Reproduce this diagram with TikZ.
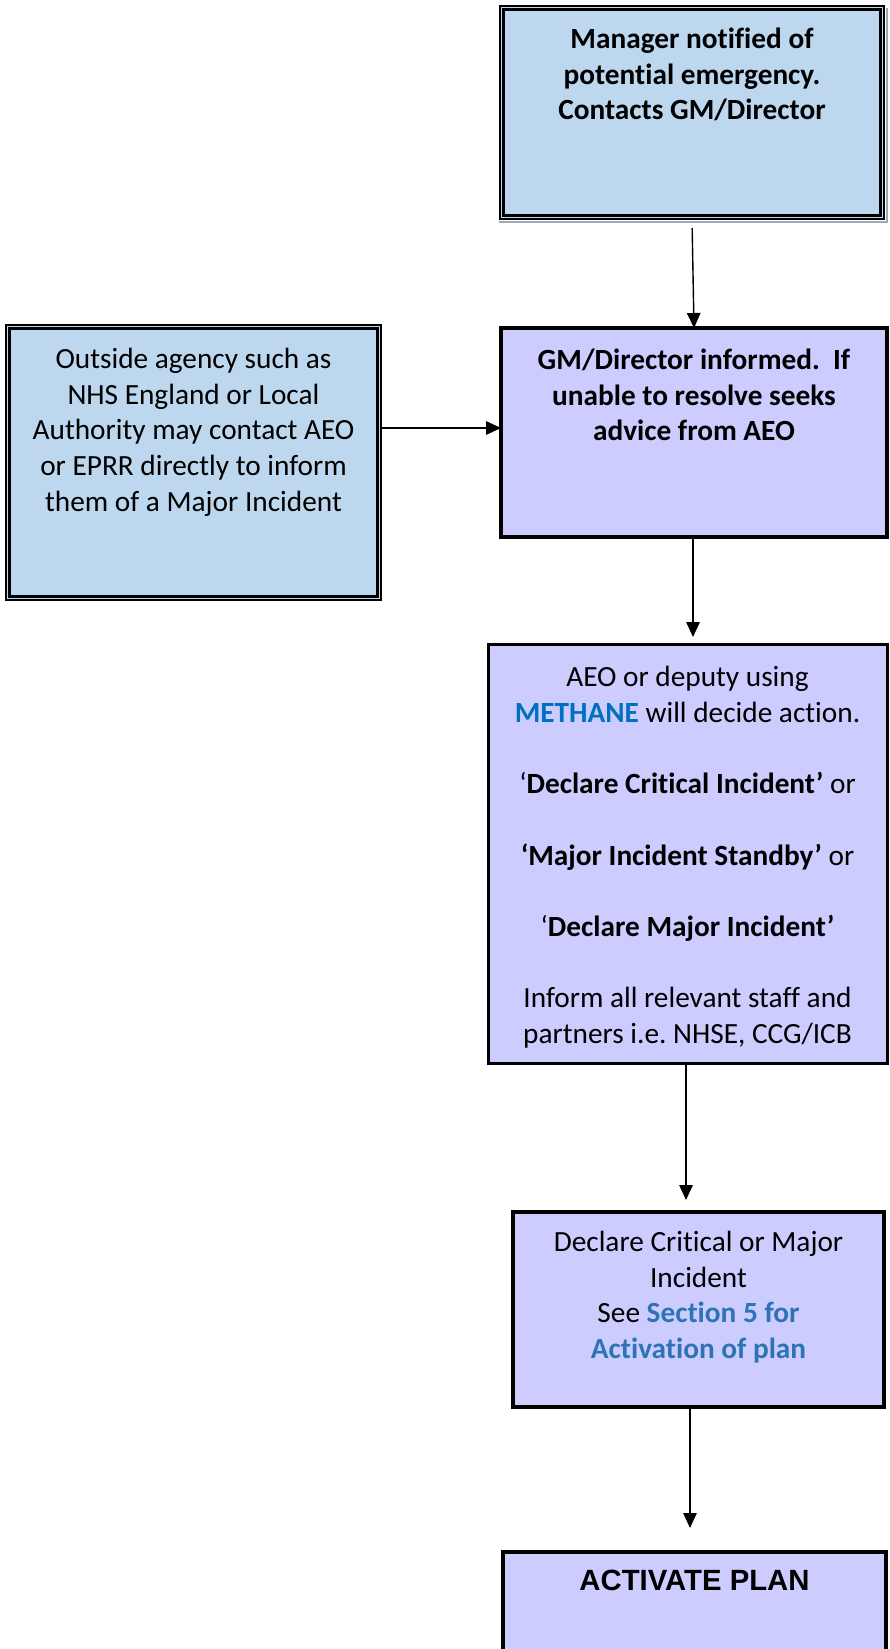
\documentclass[tikz,border=0pt]{standalone}
\usepackage{fontspec}
\setmainfont{Carlito}[Ligatures=NoCommon]
\newfontfamily\arialfont{Liberation Sans}
\usetikzlibrary{arrows.meta,calc}
\definecolor{lblue}{HTML}{BDD7EE}
\definecolor{lav}{HTML}{CCCCFF}
\definecolor{methblue}{HTML}{0070C0}
\definecolor{secblue}{HTML}{2E74B5}
\definecolor{shadowgray}{HTML}{9DAAB4}
\frenchspacing
\newcommand{\boxtext}[4]{\parbox[c][#2][t]{#1}{\vspace*{#3}\centering\fontsize{29.3pt}{35.7pt}\selectfont\strut #4}}
\tikzset{
  flowbox/.style={rectangle, inner sep=0pt, outer sep=0pt, draw=black, anchor=north west},
  bluebox/.style={flowbox, fill=lblue, line width=1.3pt},
  lavbox/.style={flowbox, fill=lav, line width=#1},
  innerline/.style={line width=2.4pt},
  conn/.style={line width=1.4pt, -{Triangle[length=15pt,width=13.5pt]}},
}
\begin{document}
\begin{tikzpicture}[x=1pt,y=-1pt]
\useasboundingbox (0,0) rectangle (889,1649);
\clip (0,0) rectangle (889,1649);
\fill[white] (0,0) rectangle (889,1649);

% Manager box
\node[bluebox] (mgr) at (500,6) {\boxtext{384pt}{213pt}{17.5pt}{\bfseries Manager notified of\\potential emergency.\\Contacts GM/Director}};
\draw[innerline] ([shift={(3.6pt,-3.6pt)}]mgr.north west) rectangle ([shift={(-3.6pt,3.6pt)}]mgr.south east);
\draw[shadowgray, line width=1.6pt] ([shift={(3.2pt,-2pt)}]mgr.north east) -- ([shift={(3.2pt,-3.2pt)}]mgr.south east) -- ([shift={(-1pt,-3.2pt)}]mgr.south west);

% Outside agency box
\node[bluebox] (out) at (6,325) {\boxtext{375pt}{275pt}{18.5pt}{Outside agency such as\\NHS England or Local\\Authority may contact AEO\\or EPRR directly to inform\\them of a Major Incident}};
\draw[innerline] ([shift={(3.6pt,-3.6pt)}]out.north west) rectangle ([shift={(-3.6pt,3.6pt)}]out.south east);

% GM box
\node[lavbox=4pt] (gm) at (501,328) {\boxtext{386pt}{209pt}{16.5pt}{\bfseries GM/Director informed.\ \ If\\unable to resolve seeks\\advice from AEO}};

% AEO box
\node[lavbox=3pt] (aeo) at (488,644) {\boxtext{399pt}{419pt}{17.5pt}{AEO or deputy using\\{\bfseries\color{methblue}METHANE} will decide action.\\[35.7pt]‘\textbf{Declare Critical Incident’} or\\[35.7pt]\textbf{‘Major Incident Standby’} or\\[35.7pt]‘\textbf{Declare Major Incident’}\\[35.7pt]Inform all relevant staff and\\partners i.e. NHSE, CCG/ICB}};

% Declare box
\node[lavbox=4pt] (decl) at (513,1212) {\boxtext{371pt}{195pt}{14.5pt}{Declare Critical or Major\\Incident\\See {\bfseries\color{secblue}Section 5 for}\\{\bfseries\color{secblue}Activation of plan}}};

% Activate box
\node[lavbox=4pt] (act) at (503,1552) {\boxtext{383pt}{160pt}{13.5pt}{\arialfont\bfseries ACTIVATE PLAN}};

% connectors
\draw[conn, shorten <=9pt] (mgr.south) -- (gm.north);
\draw[conn] ([yshift=4.5pt]out.east |- gm.west) -- ([yshift=4.5pt]gm.west);
\draw[conn, shorten >=7pt] ([xshift=-1pt]gm.south) -- ([xshift=-1pt]gm.south |- aeo.north);
\draw[conn, shorten >=12pt] ([xshift=-1.5pt]aeo.south) -- ([xshift=-1.5pt]aeo.south |- decl.north);
\draw[conn, shorten >=24pt] ([xshift=-4.5pt]act.north |- decl.south) -- ([xshift=-4.5pt]act.north);
\end{tikzpicture}
\end{document}
